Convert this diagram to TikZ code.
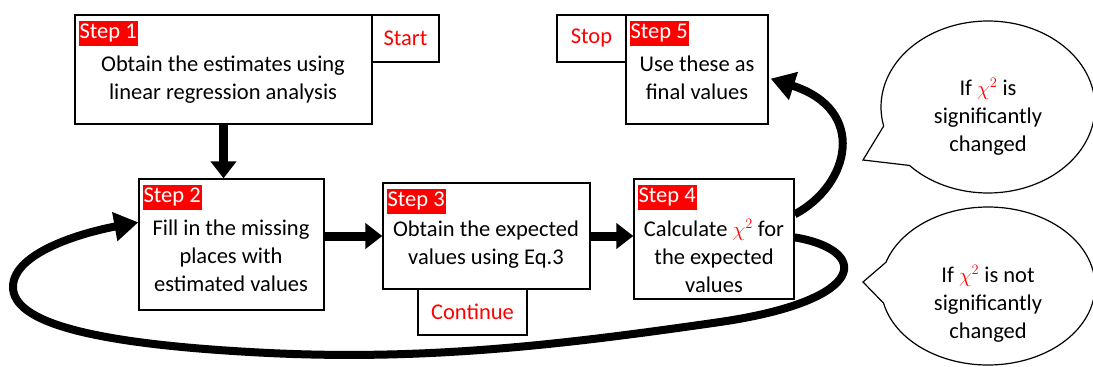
\documentclass[tikz,border=0pt]{standalone}
\usepackage{fontspec}
\setmainfont{Carlito}
\usetikzlibrary{arrows.meta}
\usetikzlibrary{shapes.callouts}

\tikzset{
	box/.style={draw, line width=1.3pt, inner sep=0pt},
	steplabel/.style={fill=red, text=white, inner xsep=1pt, inner ysep=1pt, text height=17pt, text depth=6pt, anchor=north west},
	flag/.style={box, text=red},
	fat/.style={line width=9pt, -{Triangle[length=17pt,width=25pt]}},
	loop/.style={line width=8pt, -{Triangle[length=24pt,width=28pt]}},
	bubble/.style={ellipse callout, draw, line width=1.2pt, callout pointer arc=30}
}

\begin{document}
\begin{tikzpicture}[x=1pt, y=-1pt, font=\fontsize{22.5}{28}\selectfont]
	\useasboundingbox (0,0) rectangle (1093,367);
	
	\newcommand\stepBox[6]{
		\node[box, minimum width={#4-#2}, minimum height={#5-#3}] (#1) at ({(#2+#4)/2},{(#3+#5)/2}) {};
		\node[steplabel] (#1-lab) at ([shift={(4,6)}]#1.north west) {Step #6};
	}
	
	\stepBox{b1}{75}{15}{372}{124}{1};
	\stepBox{b2}{139}{179}{324}{310}{2};
	\stepBox{b3}{383}{183}{590}{289}{3};
	\stepBox{b4}{634}{179}{794}{299}{4};
	\stepBox{b5}{626}{15}{768}{124}{5};
	
	\node[align=center] (t1) at (223,80) {Obtain the estimates using\\linear regression analysis};
	\node[align=center] (t2) at (231,256) {Fill in the missing\\places with\\estimated values};
	\node[align=center] (t3) at (486,245) {Obtain the expected\\values using Eq.3};
	\node[align=center] (t4) at (714,256) {Calculate {\color{red}$\chi^2$} for\\the expected\\values};
	\node[align=center] (t5) at (697,78) {Use these as\\final values};
	
	\node[flag, minimum width=67, minimum height=47] (start) at (405.5,38.5) {Start};
	\node[flag, minimum width=69, minimum height=47] (stop) at (591.5,38.5) {Stop};
	\node[flag, minimum width=109, minimum height=46] (cont) at (472.5,312) {Continue};
	
	\node[bubble, minimum width=214, minimum height=172, callout absolute pointer={(863,160)}] (yes) at (988,107) {};
	\node[bubble, minimum width=214, minimum height=158, callout absolute pointer={(863,282)}] (no) at (988,286) {};
	\node[align=center] (yes-t) at (988,117) {If {\color{red}$\chi^2$} is\\significantly\\changed};
	\node[align=center] (no-t) at (988,304) {If {\color{red}$\chi^2$} is not\\significantly\\changed};
	
	% straight arrows
	\draw[fat] (b1.south) -- (b1.south |- b2.north);
	\draw[fat] (b2.east |- b3) -- (b3.west);
	\draw[fat] (b3.east) -- (b3.east -| b4.west);
	
	% back to step 5 / round to step 2
	\coordinate (up) at ([shift={(0,36)}]b4.north east);
	\coordinate (down) at ([shift={(0,59)}]b4.north east);
	\draw[loop] (up) .. controls (850,185) and (868,110) .. ([shift={(2,-46)}]b5.south east);
	\draw[loop] (down) .. controls (870,250) and (870,300) .. (720,322)
		.. controls (560,345) and (420,362) .. (250,352)
		.. controls (90,343) and (13,322) .. (13,287)
		.. controls (13,252) and (85,232) .. ([shift={(0,44)}]b2.north west);
\end{tikzpicture}
\end{document}
